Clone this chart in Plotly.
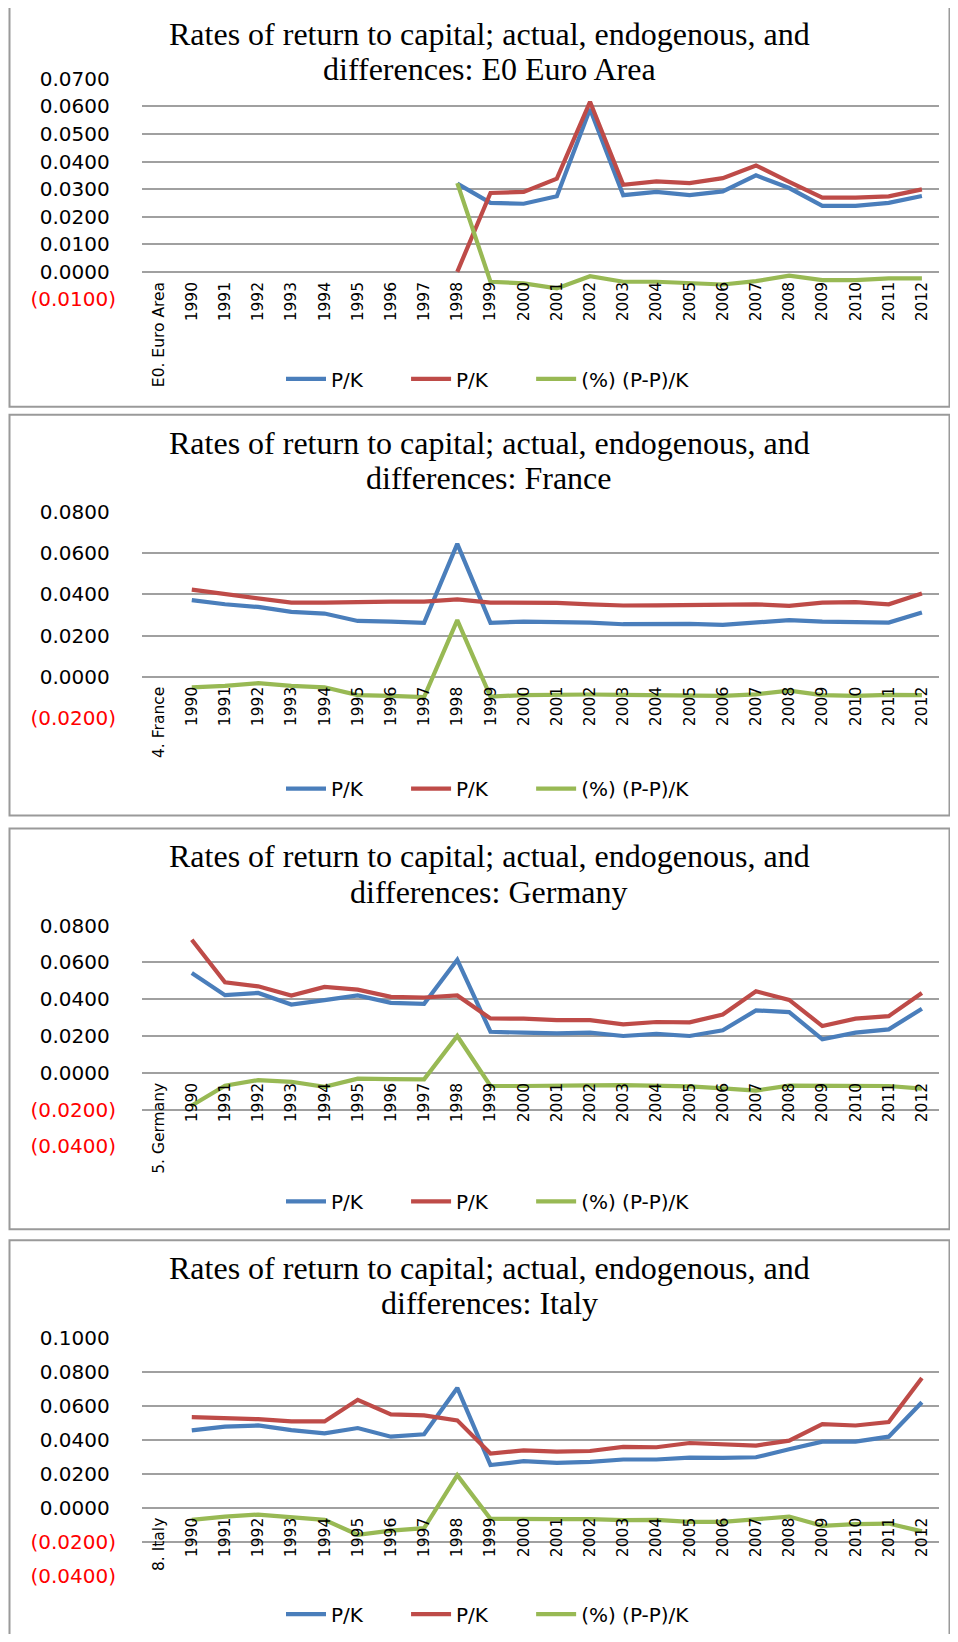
import plotly.graph_objects as go

# ---------------- data ----------------
YEARS = [str(y) for y in range(1990, 2013)]
PANEL_NAMES = ["E0. Euro Area", "4. France", "5. Germany", "8. Italy"]
TITLE_LINE1 = "Rates of return to capital; actual, endogenous, and"
TITLE_LINE2 = ["differences: E0 Euro Area", "differences: France",
               "differences: Germany", "differences: Italy"]
SERIES_NAMES = ["P/K", "P/K", "(%) (P-P)/K"]
SERIES_COLORS = ["#4A7EBB", "#BE4B48", "#98B954"]

euro_actual = [None] * 8 + [0.0320, 0.0250, 0.0247, 0.0274, 0.0591, 0.0278, 0.0290,
                            0.0278, 0.0292, 0.0350, 0.0304, 0.0239, 0.0239, 0.0250, 0.0275]
euro_endog = [None] * 8 + [0.0000, 0.0286, 0.0290, 0.0338, 0.0617, 0.0316, 0.0328,
                           0.0322, 0.0340, 0.0386, 0.0326, 0.0269, 0.0269, 0.0274, 0.0299]
euro_diff = [None] * 8 + [0.0322, -0.0036, -0.0042, -0.0060, -0.0016, -0.0036, -0.0036,
                          -0.0042, -0.0046, -0.0034, -0.0014, -0.0030, -0.0030, -0.0024, -0.0024]

france_actual = [0.0372, 0.0352, 0.0339, 0.0315, 0.0307, 0.0271, 0.0268, 0.0262, 0.0646,
                 0.0262, 0.0268, 0.0268, 0.0263, 0.0255, 0.0258, 0.0257, 0.0252, 0.0265,
                 0.0275, 0.0268, 0.0267, 0.0263, 0.0312]
france_endog = [0.0423, 0.0401, 0.0378, 0.0360, 0.0360, 0.0365, 0.0365, 0.0365, 0.0376,
                0.0360, 0.0360, 0.0359, 0.0352, 0.0346, 0.0347, 0.0349, 0.0349, 0.0352,
                0.0344, 0.0360, 0.0362, 0.0352, 0.0404]
france_diff = [-0.0052, -0.0045, -0.0032, -0.0045, -0.0052, -0.0090, -0.0094, -0.0100, 0.0275,
               -0.0097, -0.0090, -0.0087, -0.0087, -0.0089, -0.0089, -0.0090, -0.0094, -0.0086,
               -0.0068, -0.0090, -0.0094, -0.0089, -0.0090]

germany_actual = [0.0542, 0.0422, 0.0434, 0.0371, 0.0395, 0.0420, 0.0380, 0.0375, 0.0614,
                  0.0223, 0.0218, 0.0214, 0.0218, 0.0200, 0.0211, 0.0200, 0.0231, 0.0339,
                  0.0330, 0.0182, 0.0218, 0.0236, 0.0348]
germany_endog = [0.0723, 0.0492, 0.0470, 0.0420, 0.0467, 0.0452, 0.0413, 0.0409, 0.0420,
                 0.0295, 0.0294, 0.0286, 0.0286, 0.0263, 0.0276, 0.0274, 0.0317, 0.0443,
                 0.0396, 0.0254, 0.0294, 0.0308, 0.0434]
germany_diff = [-0.0178, -0.0070, -0.0040, -0.0049, -0.0076, -0.0032, -0.0034, -0.0036, 0.0200,
                -0.0072, -0.0072, -0.0068, -0.0068, -0.0067, -0.0068, -0.0074, -0.0085, -0.0097,
                -0.0070, -0.0072, -0.0074, -0.0072, -0.0086]

italy_actual = [0.0454, 0.0476, 0.0483, 0.0456, 0.0437, 0.0468, 0.0417, 0.0431, 0.0704,
                0.0250, 0.0273, 0.0263, 0.0269, 0.0283, 0.0283, 0.0294, 0.0292, 0.0296,
                0.0343, 0.0388, 0.0388, 0.0417, 0.0620]
italy_endog = [0.0532, 0.0528, 0.0520, 0.0507, 0.0507, 0.0634, 0.0548, 0.0542, 0.0513,
               0.0318, 0.0337, 0.0329, 0.0333, 0.0357, 0.0355, 0.0380, 0.0374, 0.0365,
               0.0394, 0.0491, 0.0483, 0.0503, 0.0762]
italy_diff = [-0.0072, -0.0053, -0.0041, -0.0055, -0.0072, -0.0160, -0.0136, -0.0121, 0.0191,
              -0.0066, -0.0064, -0.0068, -0.0068, -0.0074, -0.0072, -0.0084, -0.0084, -0.0066,
              -0.0053, -0.0107, -0.0097, -0.0094, -0.0140]

euro_yticks = [-0.01, 0.0, 0.01, 0.02, 0.03, 0.04, 0.05, 0.06, 0.07]
france_yticks = [-0.02, 0.0, 0.02, 0.04, 0.06, 0.08]
germany_yticks = [-0.04, -0.02, 0.0, 0.02, 0.04, 0.06, 0.08]
italy_yticks = [-0.04, -0.02, 0.0, 0.02, 0.04, 0.06, 0.08, 0.10]

PANEL_SERIES = [
    (euro_actual, euro_endog, euro_diff),
    (france_actual, france_endog, france_diff),
    (germany_actual, germany_endog, germany_diff),
    (italy_actual, italy_endog, italy_diff),
]
PANEL_YTICKS = [euro_yticks, france_yticks, germany_yticks, italy_yticks]

# ---------------- layout geometry (page pixels) ----------------
PAGE_W, PAGE_H = 958, 1642
OFF = 8                      # default body margin of the html page
FW, FH = PAGE_W - 2 * OFF, PAGE_H - 2 * OFF
BOX_TOP = [6, 417, 833, 1247]
BOX_BOTTOM = [409, 820, 1236, None]
PLOT_TOP = [79.3, 515.0, 930.7, 1345.0]
PLOT_BOTTOM = [301.0, 721.7, 1152.7, 1584.3]
LEGEND_Y = [381, 793, 1208, 1623]
BOX_L, BOX_R = 9.5, 949.5
PLOT_L, PLOT_R = 142, 938.5
TITLE_X = 489
LEGEND_PAD = "\u00a0" * 6    # spacing between legend entries


def px(v):
    return (v - OFF) / FW


def py(v):
    return 1 - (v - OFF) / FH


def fmt_tick(v):
    if v < 0:
        return '<span style="color:#FF0000">(%.4f)</span>' % abs(v)
    return "%.4f\u00a0" % v


fig = go.Figure()
annotations = []
shapes = []
layout = dict(
    width=FW, height=FH, autosize=False,
    margin=dict(l=0, r=0, t=0, b=0),
    paper_bgcolor="white", plot_bgcolor="white",
    font=dict(family="DejaVu Sans", color="#000000"),
    showlegend=True,
)

for i in range(4):
    n = "" if i == 0 else str(i + 1)
    cats = [PANEL_NAMES[i]] + YEARS
    yt = PANEL_YTICKS[i]
    ymin, ymax = yt[0], yt[-1]
    top, bot = PLOT_TOP[i], PLOT_BOTTOM[i]
    y0_px = top + (ymax - 0) / (ymax - ymin) * (bot - top)
    legend_name = "legend" + n

    for s in range(3):
        vals = [None] + list(PANEL_SERIES[i][s])
        label = SERIES_NAMES[s] + (LEGEND_PAD if s < 2 else "")
        fig.add_trace(go.Scatter(
            x=cats, y=vals, mode="lines", name=label,
            line=dict(color=SERIES_COLORS[s], width=4.2),
            xaxis="x" + n, yaxis="y" + n, legend=legend_name,
            connectgaps=False, hoverinfo="skip",
        ))

    layout["xaxis" + n] = dict(
        domain=[px(PLOT_L), px(PLOT_R)], anchor="free", position=py(y0_px),
        type="category", categoryorder="array", categoryarray=cats,
        range=[-0.5, len(cats) - 0.5], tickmode="array", tickvals=cats, ticktext=cats,
        tickangle=-90, showgrid=False, zeroline=False, showline=False, ticks="",
        tickfont=dict(family="DejaVu Sans", size=15.5, color="#000000"),
        ticklabelstandoff=6, automargin=False, fixedrange=True,
    )
    layout["yaxis" + n] = dict(
        domain=[py(bot), py(top)], anchor="x" + n, range=[ymin, ymax],
        tickmode="array", tickvals=yt, ticktext=[fmt_tick(v) for v in yt],
        showgrid=True, gridcolor="#A0A0A0", gridwidth=1.6, zeroline=False,
        showline=False, ticks="", ticklabelstandoff=25,
        tickfont=dict(family="DejaVu Sans", size=20, color="#000000"),
        automargin=False, fixedrange=True,
    )
    layout[legend_name] = dict(
        orientation="h", x=px(488), y=py(LEGEND_Y[i]), xanchor="center", yanchor="middle",
        font=dict(family="DejaVu Sans", size=20, color="#000000"),
        bgcolor="rgba(0,0,0,0)", itemwidth=40, tracegroupgap=0,
    )

    # title (two lines)
    t1 = BOX_TOP[i] + 28
    annotations.append(dict(text=TITLE_LINE1, x=px(TITLE_X), y=py(t1), xref="paper", yref="paper",
                            xanchor="center", yanchor="middle", showarrow=False,
                            font=dict(family="Liberation Serif", size=32, color="#000000")))
    annotations.append(dict(text=TITLE_LINE2[i], x=px(TITLE_X), y=py(t1 + 35.5), xref="paper", yref="paper",
                            xanchor="center", yanchor="middle", showarrow=False,
                            font=dict(family="Liberation Serif", size=32, color="#000000")))

    # border box
    if BOX_BOTTOM[i] is not None:
        shapes.append(dict(type="rect", xref="paper", yref="paper",
                           x0=px(BOX_L), x1=px(BOX_R), y0=py(BOX_BOTTOM[i]), y1=py(BOX_TOP[i]),
                           line=dict(color="#9A9A9A", width=2), fillcolor="rgba(0,0,0,0)", layer="below"))
    else:
        xl, xr, yt_, yb = px(BOX_L), px(BOX_R), py(BOX_TOP[i]), py(PAGE_H + 20)
        shapes.append(dict(type="path", xref="paper", yref="paper",
                           path=f"M {xl},{yb} L {xl},{yt_} L {xr},{yt_} L {xr},{yb}",
                           line=dict(color="#9A9A9A", width=2), layer="below"))

layout["annotations"] = annotations
layout["shapes"] = shapes
fig.update_layout(**layout)

fig.write_html("out.html")
